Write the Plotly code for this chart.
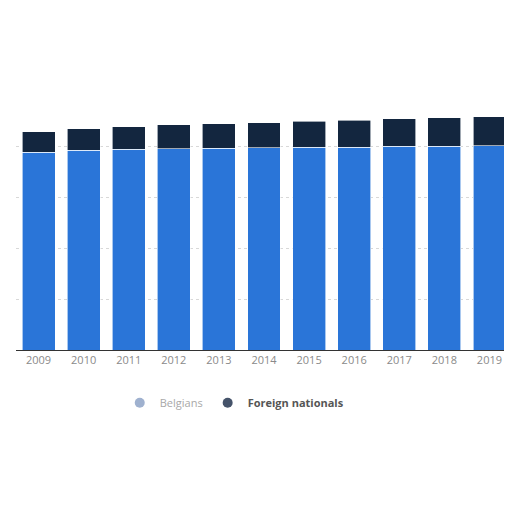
import plotly.graph_objects as go

# Belgium population by nationality, in millions
years = ["2009", "2010", "2011", "2012", "2013", "2014", "2015", "2016", "2017", "2018", "2019"]
belgians = [9.70, 9.78, 9.83, 9.87, 9.90, 9.92, 9.94, 9.94, 9.98, 10.00, 10.01]
foreign = [1.00, 1.06, 1.12, 1.17, 1.20, 1.23, 1.27, 1.33, 1.35, 1.38, 1.42]

fig = go.Figure()
fig.add_trace(go.Bar(x=years, y=belgians, name="Belgians", showlegend=False,
                     marker=dict(color="#2a75d8", line=dict(color="#ffffff", width=0.6))))
fig.add_trace(go.Bar(x=years, y=foreign, name="Foreign nationals", showlegend=False,
                     marker=dict(color="#13263f", line=dict(color="#ffffff", width=0.6))))

# legend entries drawn as round markers
fig.add_trace(go.Scatter(x=[None], y=[None], mode="markers",
                         name="<span style='color:#a8a8a8'>Belgians</span>",
                         marker=dict(symbol="circle", size=10, color="#9fb1cf")))
fig.add_trace(go.Scatter(x=[None], y=[None], mode="markers",
                         name="<b>Foreign nationals</b>",
                         marker=dict(symbol="circle", size=10, color="#45536a")))

fig.update_layout(
    barmode="stack",
    bargap=0.27,
    width=512, height=512,
    margin=dict(l=8, r=8, t=87, b=170),
    paper_bgcolor="white", plot_bgcolor="white",
    font=dict(family="Open Sans", color="#8a8a8a", size=11),
    showlegend=True,
    legend=dict(orientation="h", x=0.44, xanchor="center", y=-0.15, yanchor="top",
                traceorder="normal", itemsizing="trace",
                font=dict(size=11, color="#555555")),
    xaxis=dict(showline=True, linecolor="#333333", linewidth=1, ticks="",
               tickfont=dict(color="#8a8a8a", size=11)),
    yaxis=dict(range=[0, 12.5], dtick=2.5, showticklabels=False,
               showgrid=True, gridcolor="#d8d8d8", griddash="dot", zeroline=False),
)

fig.write_html("out.html")
